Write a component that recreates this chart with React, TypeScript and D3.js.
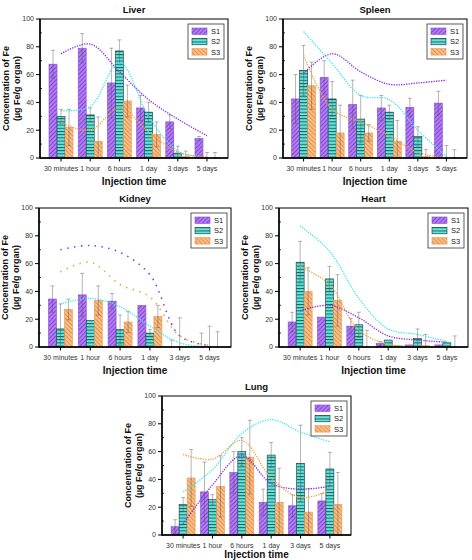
import React from "react";
import * as d3 from "d3";

const times = ["30 minutes", "1 hour", "6 hours", "1 day", "3 days", "5 days"];
const seriesNames = ["S1", "S2", "S3"];
const yTicks = [0, 20, 40, 60, 80, 100];
const yMinor = [10, 30, 50, 70, 90];

// bar means per series (S1, S2, S3), µg Fe / g organ
const liverBars = [
	[67.5, 79, 54, 36, 26, 14],
	[30, 31, 77, 33, 3.5, 0],
	[22, 12, 41, 17, 1, 0],
];
const liverErrors = [
	[10, 10.5, 25, 9, 5, 1.5],
	[5, 5, 8, 7, 5, 4],
	[13, 17.5, 11.5, 9, 4, 4],
];
const liverFits = [
	[75, 82, 62, 42, 28, 16],
	[34, 37, 69, 30, 5, 0],
	[25.5, 20, 36, 19, 4, 1],
];

const spleenBars = [
	[42.5, 58, 38.5, 36, 36.5, 39.5],
	[63, 42.5, 28, 33, 15.5, 0],
	[52, 18, 18, 12, 1, 0],
];
const spleenErrors = [
	[17.5, 12, 17.5, 9, 6.5, 8.5],
	[18, 12.5, 17, 5, 7, 9],
	[17, 20, 6, 15, 5, 6],
];
const spleenFits = [
	[61, 75, 62, 53, 54, 56],
	[91, 68, 45, 42, 20, 1],
	[74, 35, 26, 16, 4, 0],
];

const kidneyBars = [
	[34.5, 37.5, 33, 30, 0, 0],
	[13, 19, 12.5, 10, 0, 0],
	[27, 33.5, 18, 22, 0, 0],
];
const kidneyErrors = [
	[9.5, 15.5, 5.5, 0, 5, 10],
	[18, 0, 10.5, 2.5, 21, 15],
	[7.5, 10.5, 7.5, 8, 0, 11],
];
const kidneyFits = [
	[70, 73, 68, 52, 8, 1],
	[31, 35, 29, 15, 3, 0],
	[54, 61, 45, 36, 8, 1],
];

const heartBars = [
	[18, 21.5, 15, 2.5, 1.5, 1.5],
	[61, 49, 16, 5, 6, 3],
	[40, 33.5, 0, 1, 1, 0],
];
const heartErrors = [
	[7, 0, 5.5, 1.5, 0, 0],
	[15, 9, 9, 0, 7, 0],
	[17, 18.5, 12, 0, 8, 8],
];
const heartFits = [
	[26, 30, 21, 8, 5, 3.5],
	[87, 69, 35, 13, 9, 4],
	[58, 45, 12, 2, 0.5, 0],
];

const lungBars = [
	[6, 31, 45, 23.5, 21, 24.5],
	[22, 25.5, 60, 57.5, 51.5, 47.5],
	[41, 35, 56, 23.5, 16.5, 22],
];
const lungErrors = [
	[5, 21.5, 15, 9.5, 8, 5.5],
	[5, 3.5, 10, 9, 27.5, 12],
	[20.5, 22, 26.5, 24.5, 17, 23],
];
const lungFits = [
	[8, 36, 57, 37, 33, 35],
	[31, 47, 73, 83, 74, 67],
	[58, 54.5, 68, 41, 27, 32],
];

const font = "'Liberation Sans', Arial, sans-serif";
const fills = ["url(#hatch-s1)", "url(#hatch-s2)", "url(#hatch-s3)"];
const edges = ["#8a4cd8", "#17393a", "#e49a55"];
const fitColors = ["#8a2be2", "#3fe6f2", "#f0a038"];

function Panel({ title, x, y, w, h, bars, errors, fits, sparse, xTitleGap = 27 }: any) {
	const xScale = d3.scaleBand().domain(times).range([0, w]).paddingInner(0).paddingOuter(0.22);
	const yScale = d3.scaleLinear().domain([0, 100]).range([h, 0]);
	const barW = 8;
	const center = (t: string) => (xScale(t) as number) + xScale.bandwidth() / 2;

	const fitLine = d3
		.line<number>()
		.x((_, i) => center(times[i]))
		.y((v) => yScale(v))
		.curve(d3.curveCatmullRom.alpha(0.5));

	return (
		<g transform={`translate(${x},${y})`} fontFamily={font}>
			<text x={w / 2} y={-6} textAnchor="middle" fontSize={9.5} fontWeight="bold" fill="#111">
				{title}
			</text>

			{/* bars */}
			{bars.map((vals: number[], s: number) =>
				vals.map((v, i) => {
					const bx = center(times[i]) - barW * 1.5 + s * barW;
					if (v <= 0) return null;
					return (
						<rect
							key={`b${s}-${i}`}
							x={bx}
							y={yScale(v)}
							width={barW}
							height={h - yScale(v)}
							fill={fills[s]}
							stroke={edges[s]}
							strokeWidth={0.6}
						/>
					);
				}),
			)}

			{/* error bars */}
			{errors.map((vals: number[], s: number) =>
				vals.map((e, i) => {
					if (e <= 0) return null;
					const ex = center(times[i]) - barW + s * barW;
					const v = bars[s][i];
					const y1 = yScale(v + e);
					const y0 = yScale(Math.max(0, v - e));
					return (
						<g key={`e${s}-${i}`} stroke="#555" strokeOpacity={0.55} strokeWidth={0.8}>
							<line x1={ex} x2={ex} y1={y1} y2={y0} />
							<line x1={ex - 2} x2={ex + 2} y1={y1} y2={y1} />
							<line x1={ex - 2} x2={ex + 2} y1={y0} y2={y0} />
						</g>
					);
				}),
			)}

			{/* fitted trends */}
			{fits.map((vals: number[], s: number) => (
				<path
					key={`f${s}`}
					d={fitLine(vals) || ""}
					fill="none"
					stroke={fitColors[s]}
					strokeWidth={sparse && s !== 1 ? 1.6 : 1.3}
					strokeDasharray={sparse && s !== 1 ? "1.4,5.5" : "1.3,1.2"}
					strokeLinecap="butt"
				/>
			))}

			{/* frame */}
			<rect x={0} y={0} width={w} height={h} fill="none" stroke="#000" strokeWidth={1} />
			<line x1={0} x2={0} y1={0} y2={h + 0.5} stroke="#000" strokeWidth={1.5} />
			<line x1={0} x2={w} y1={h} y2={h} stroke="#000" strokeWidth={1.5} />

			{/* y axis */}
			{yTicks.map((t) => (
				<g key={`y${t}`}>
					<line x1={-4} x2={0} y1={yScale(t)} y2={yScale(t)} stroke="#000" strokeWidth={1} />
					<text x={-6} y={yScale(t)} dy="0.35em" textAnchor="end" fontSize={7} fill="#333">
						{t}
					</text>
				</g>
			))}
			{yMinor.map((t) => (
				<line key={`m${t}`} x1={0} x2={2} y1={yScale(t)} y2={yScale(t)} stroke="#000" strokeWidth={0.8} />
			))}
			<text
				transform={`translate(-34,${h / 2}) rotate(-90)`}
				textAnchor="middle"
				dy="0.35em"
				fontSize={9}
				fontWeight="bold"
				fill="#111"
			>
				Concentration of Fe
			</text>
			<text
				transform={`translate(-23,${h / 2}) rotate(-90)`}
				textAnchor="middle"
				dy="0.35em"
				fontSize={9}
				fontWeight="bold"
				fill="#111"
			>
				(µg Fe/g organ)
			</text>

			{/* x axis */}
			{times.map((t) => (
				<g key={`x${t}`}>
					<line x1={center(t)} x2={center(t)} y1={h} y2={h + 3.5} stroke="#000" strokeWidth={1} />
					<text x={center(t)} y={h + 12.5} textAnchor="middle" fontSize={7} fill="#333">
						{t}
					</text>
				</g>
			))}
			<text x={w / 2} y={h + xTitleGap} textAnchor="middle" fontSize={10} fontWeight="bold" fill="#111">
				Injection time
			</text>

			{/* legend */}
			<g transform={`translate(${w - 40},5)`}>
				<rect x={0} y={0} width={36} height={35} fill="#fff" stroke="#333" strokeWidth={0.8} />
				{seriesNames.map((n, s) => (
					<g key={n} transform={`translate(4,${4 + s * 10.3})`}>
						<rect x={0} y={0} width={15} height={6.5} fill={fills[s]} stroke={edges[s]} strokeWidth={0.6} />
						<text x={19} y={3.3} dy="0.35em" fontSize={7.5} fill="#222">
							{n}
						</text>
					</g>
				))}
			</g>
		</g>
	);
}

export default function App() {
	return (
		<svg
			width={472}
			height={560}
			style={{ position: "absolute", left: 0, top: 0, background: "#fff" }}
		>
			<defs>
				<pattern id="hatch-s1" width={3} height={3} patternUnits="userSpaceOnUse" patternTransform="rotate(45)">
					<rect width={3} height={3} fill="#b07ef0" />
					<line x1={0.5} x2={0.5} y1={0} y2={3} stroke="#8744d6" strokeWidth={1} />
				</pattern>
				<pattern id="hatch-s2" width={3.2} height={3.2} patternUnits="userSpaceOnUse">
					<rect width={3.2} height={3.2} fill="#5fe6dc" />
					<line x1={0} x2={3.2} y1={0.5} y2={0.5} stroke="#1f4f50" strokeWidth={0.9} />
				</pattern>
				<pattern id="hatch-s3" width={3} height={3} patternUnits="userSpaceOnUse" patternTransform="rotate(-45)">
					<rect width={3} height={3} fill="#f8bf88" />
					<line x1={0.5} x2={0.5} y1={0} y2={3} stroke="#e6924a" strokeWidth={1} />
				</pattern>
			</defs>
			<rect width={472} height={560} fill="#fff" />
			<Panel title="Liver" x={40} y={19} w={188} h={139} bars={liverBars} errors={liverErrors} fits={liverFits} />
			<Panel title="Spleen" x={283} y={19} w={184} h={139} bars={spleenBars} errors={spleenErrors} fits={spleenFits} />
			<Panel title="Kidney" x={39} y={208} w={192} h={139} bars={kidneyBars} errors={kidneyErrors} fits={kidneyFits} sparse />
			<Panel title="Heart" x={279} y={208} w={189} h={139} bars={heartBars} errors={heartErrors} fits={heartFits} />
			<Panel title="Lung" x={162} y={396} w={189} h={139} bars={lungBars} errors={lungErrors} fits={lungFits} xTitleGap={22.5} />
		</svg>
	);
}
